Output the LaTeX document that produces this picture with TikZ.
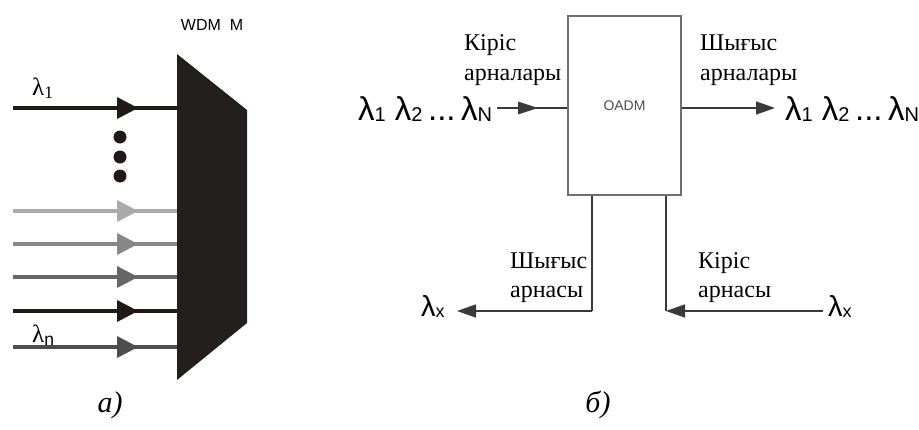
\documentclass[tikz,border=0pt]{standalone}
\usepackage{fontspec}
\setmainfont{Liberation Serif}
\newfontfamily\sansf{Liberation Sans}
\usetikzlibrary{arrows.meta}
\definecolor{muxblack}{HTML}{231F1E}
\definecolor{chA}{HTML}{AAAAAA}
\definecolor{chB}{HTML}{878787}
\definecolor{chC}{HTML}{666666}
\definecolor{chD}{HTML}{1F1A17}
\definecolor{chE}{HTML}{4D4D4D}
\definecolor{wire}{HTML}{3A3A3A}
\definecolor{frame}{HTML}{707070}
% wavelength subscript in the sans labels
\newcommand\wlsub[1]{\raisebox{-1.5pt}{\fontsize{20}{20}\selectfont #1}}
\newcommand\wlsubs[1]{\raisebox{-1.5pt}{\fontsize{18}{18}\selectfont #1}}
\begin{document}
\begin{tikzpicture}[x=1pt,y=-1pt,
  lbl/.style={font=\fontsize{24}{30}\selectfont, inner sep=0pt, anchor=base west},
  lam/.style={font=\sansf\fontsize{33}{34}\selectfont, inner sep=0pt, anchor=base west},
  lamx/.style={font=\sansf\fontsize{29}{30}\selectfont, inner sep=0pt, anchor=base west},
  caption/.style={font=\itshape\fontsize{30}{34}\selectfont, inner sep=0pt, anchor=base},
  wireline/.style={draw=wire, line width=1.5pt},
  tip/.style={-{Triangle[length=19pt,width=13pt]}},
  chan/.style={line width=3.5pt}]
\useasboundingbox (0,0) rectangle (919,429);

% ---------- (a) WDM multiplexer ----------
\fill[muxblack] (177,54) -- (247,110) -- (247,323) -- (177,380) -- cycle;
\node[font=\sansf\fontsize{16}{18}\selectfont, inner sep=0pt] (wdm) at (212,25) {WDM\ \ M};

% input channels with arrowheads midway
\foreach \yy/\cc [count=\i] in {108/chD, 211/chA, 244/chB, 277/chC, 311/chD, 347/chE}{
  \coordinate (s\i) at (13,\yy);
  \coordinate (e\i) at (177,\yy);
  \draw[chan, \cc] (s\i) -- (e\i);
  \fill[\cc] (117,\yy-11) -- (138,\yy) -- (117,\yy+11) -- cycle;
}
% ellipsis dots
\foreach \yy in {137,157,176}{ \fill[chD] (120,\yy) circle (6.5); }

\node[font=\fontsize{25}{28}\selectfont, inner sep=0pt, anchor=base west] (l1) at (32,95) {λ\textsubscript{1}};
\node[font=\fontsize{25}{28}\selectfont, inner sep=0pt, anchor=base west] (ln) at (32,342) {λ\textsubscript{\sansf n}};

\node[caption] (capa) at (110,412) {а)};

% ---------- (b) OADM ----------
\node[draw=frame, line width=1.5pt, minimum width=113pt, minimum height=179pt,
      inner sep=0pt, font=\sansf\fontsize{14}{16}\selectfont, text=chE] (oadm) at (624.5,105.5) {OADM};

% input aggregate
\node[lam] (inl) at (358,120) {λ\wlsub{1} λ\wlsub{2}\,...\,λ\wlsub{N}};
\coordinate (inS) at (497,108);
\draw[wireline] (inS) -- (oadm.west |- inS);
\fill[wire] (518,101.5) -- (538,108) -- (518,114.5) -- cycle;
\node[lbl] (kin1) at (464,50) {Кіріс};
\node[lbl] (kin2) at (464,80) {арналары};

% output aggregate
\coordinate (outE) at (775,108);
\draw[wireline, tip] (oadm.east |- outE) -- (outE);
\node[lam] (outl) at (785,120) {λ\wlsub{1} λ\wlsub{2}\,...\,λ\wlsub{N}};
\node[lbl] (sh1) at (700,50) {Шығыс};
\node[lbl] (sh2) at (700,80) {арналары};

% drop channel
\coordinate (dropC) at (592,311);
\coordinate (dropE) at (457,311);
\draw[wireline] (oadm.south -| dropC) -- (dropC);
\draw[wireline, tip] (dropC) -- (dropE);
\node[lamx] (lx1) at (421,316) {λ\wlsubs{x}};
\node[lbl] (sd1) at (510,268) {Шығыс};
\node[lbl] (sd2) at (510,297) {арнасы};

% add channel
\coordinate (addC) at (666,311);
\coordinate (addS) at (823,311);
\draw[wireline] (oadm.south -| addC) -- (addC);
\draw[wireline, tip] (addS) -- (addC);
\node[lamx] (lx2) at (828,316) {λ\wlsubs{x}};
\node[lbl] (ka1) at (698,268) {Кіріс};
\node[lbl] (ka2) at (698,297) {арнасы};

\node[caption] (capb) at (598,412) {б)};
\end{tikzpicture}
\end{document}
